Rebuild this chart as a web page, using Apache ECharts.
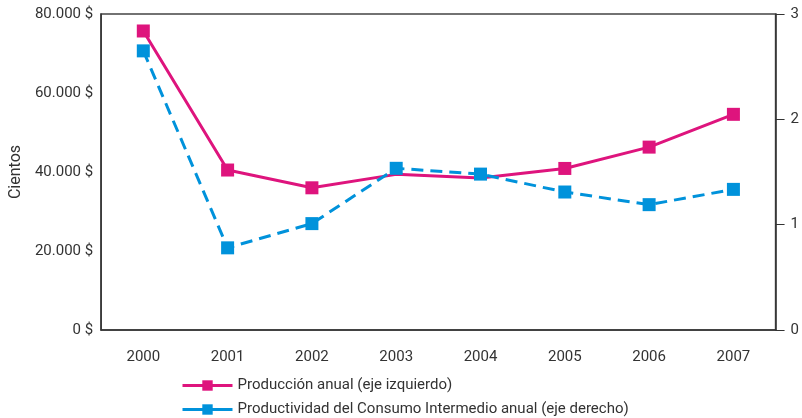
<!DOCTYPE html>
<html>
<head>
<meta charset="utf-8">
<script src="https://cdn.jsdelivr.net/npm/echarts@6/dist/echarts.min.js"></script>
<style>
    html, body { margin: 0; padding: 0; background: #fff; }
    #chart { width: 802px; height: 418px; }
</style>
</head>
<body>
<div id="chart"></div>
<script>
//======================================================================================================================
// Data
//======================================================================================================================

    var years = ['2000', '2001', '2002', '2003', '2004', '2005', '2006', '2007'];
    var produccion = [75700, 40500, 36000, 39400, 38500, 40900, 46300, 54600];
    var productividad = [2.65, 0.78, 1.01, 1.535, 1.48, 1.31, 1.19, 1.335];
    var pinkHidden = [3, 4];   // points without a visible marker in the original

    var names = ['Producción anual (eje izquierdo)', 'Productividad del Consumo Intermedio anual (eje derecho)'];

//======================================================================================================================
// Chart
//======================================================================================================================

    var font = 'Roboto, sans-serif';
    var pink = '#DE147D';
    var blue = '#0092DB';

    var pinkData = produccion.map(function(v, i) {
        return pinkHidden.indexOf(i) >= 0 ? { value: v, symbolSize: 0 } : v;
    });

    function legend(name, top) {
        return {
            left: 181,
            top: top,
            padding: 0,
            itemWidth: 50,
            itemHeight: 13,
            lineStyle: { type: 'solid', width: 3 },
            textStyle: { fontFamily: font, fontSize: 15, color: '#333' },
            data: [name]
        };
    }

    echarts.init(document.getElementById('chart')).setOption({
        backgroundColor: '#fff',
        animation: false,
        textStyle: { fontFamily: font },
        grid: { left: 99, right: 24, top: 14, bottom: 88, show: true, borderColor: '#444', borderWidth: 1.5 },
        legend: [legend(names[0], 378), legend(names[1], 402)],
        xAxis: {
            type: 'category',
            data: years,
            axisLine: { lineStyle: { color: '#333', width: 1.5 } },
            axisTick: { show: false },
            axisLabel: { color: '#333', fontSize: 15, margin: 20 }
        },
        yAxis: [{
            type: 'value',
            min: 0, max: 80000, interval: 20000,
            name: 'Cientos',
            nameLocation: 'middle',
            nameGap: 72,
            nameTextStyle: { color: '#333', fontSize: 16, fontFamily: font },
            axisLine: { show: true, lineStyle: { color: '#333', width: 1.5 } },
            axisTick: { show: false },
            splitLine: { show: false },
            axisLabel: {
                color: '#333', fontSize: 15, margin: 8,
                formatter: function(v) { return v.toLocaleString('de-DE') + ' $'; }
            }
        }, {
            type: 'value',
            position: 'right',
            min: 0, max: 3, interval: 1,
            axisLine: { show: true, lineStyle: { color: '#333', width: 1.5 } },
            axisTick: { show: true, inside: false, length: 9, lineStyle: { color: '#333' } },
            splitLine: { show: false },
            axisLabel: { color: '#333', fontSize: 15, margin: 15 }
        }],
        series: [{
            name: names[0],
            type: 'line',
            yAxisIndex: 0,
            data: pinkData,
            symbol: 'rect',
            symbolSize: 13,
            z: 2,
            lineStyle: { color: pink, width: 3 },
            itemStyle: { color: pink }
        }, {
            name: names[1],
            type: 'line',
            yAxisIndex: 1,
            data: productividad,
            symbol: 'rect',
            symbolSize: 13,
            z: 3,
            lineStyle: { color: blue, width: 3, type: [12, 7] },
            itemStyle: { color: blue }
        }]
    });
</script>
</body>
</html>
